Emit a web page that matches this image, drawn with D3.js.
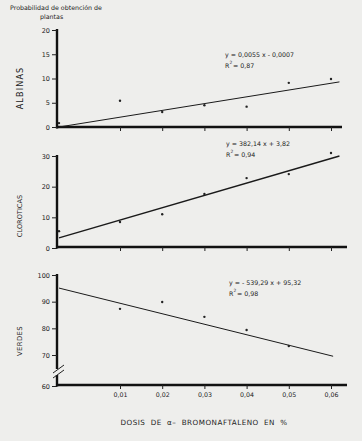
<!DOCTYPE html>
<html><head><meta charset="utf-8">
<script src="https://cdn.jsdelivr.net/npm/d3@7"></script>
<style>
html,body{margin:0;padding:0;background:#eeeeec;}
svg{display:block;}
text{font-family:"DejaVu Sans",sans-serif;fill:#222;}
</style></head>
<body>
<script>
// ---- data ----
const xTickValues = [0.01, 0.02, 0.03, 0.04, 0.05, 0.06];
const xTickLabels = ["0,01", "0,02", "0,03", "0,04", "0,05", "0,06"];

const albinasX = [0, 0.01, 0.02, 0.03, 0.04, 0.05, 0.06];
const albinasY = [0.8, 5.4, 3.1, 4.5, 4.2, 9.1, 9.9];
const albinasTrendX = [0, 0.062];
const albinasTrendY = [0, 9.3];
const albinasTicks = [0, 5, 10, 15, 20];

const cloroticasX = [0, 0.01, 0.02, 0.03, 0.04, 0.05, 0.06];
const cloroticasY = [5.5, 8.5, 11, 17.6, 22.8, 24.1, 31];
const cloroticasTrendX = [0, 0.062];
const cloroticasTrendY = [3.3, 30];
const cloroticasTicks = [0, 10, 20, 30];

const verdesX = [0.01, 0.02, 0.03, 0.04, 0.05];
const verdesY = [87.3, 89.9, 84.3, 79.4, 73.4];
const verdesTrendX = [0, 0.0605];
const verdesTrendY = [95.1, 69.6];
const verdesTicks = [60, 70, 80, 90, 100];

const eqAlbinas = ["y = 0,0055 x - 0,0007", "0,87"];
const eqCloroticas = ["y = 382,14 x + 3,82", "0,94"];
const eqVerdes = ["y = - 539,29 x + 95,32", "0,98"];

// ---- drawing ----
const W = 362, H = 441;
const svg = d3.select("body").append("svg").attr("width", W).attr("height", H);

const x = d3.scaleLinear().domain([0, 0.01, 0.06]).range([59, 120, 331]);
const axisX0 = 57;

svg.append("text").attr("x", 10).attr("y", 10).attr("font-size", 6.3).text("Probabilidad de obtención de");
svg.append("text").attr("x", 40).attr("y", 19).attr("font-size", 6.3).text("plantas");

function panel(cfg) {
  const g = svg.append("g");
  const y = cfg.y;
  g.append("line").attr("x1", axisX0).attr("x2", axisX0)
    .attr("y1", cfg.yTop).attr("y2", cfg.yBottom + 1.5)
    .attr("stroke", "#111").attr("stroke-width", 2.4);
  g.append("line").attr("x1", axisX0 - 1).attr("x2", cfg.xEnd)
    .attr("y1", cfg.yBottom).attr("y2", cfg.yBottom)
    .attr("stroke", "#111").attr("stroke-width", 2.6);
  const ya = d3.axisLeft(y).tickValues(cfg.ticks).tickSize(5).tickPadding(2).tickFormat(d3.format("d"));
  const yg = g.append("g").attr("transform", `translate(${axisX0},0)`).call(ya);
  yg.select(".domain").remove();
  yg.selectAll(".tick line").attr("stroke", "#222").attr("stroke-width", 1);
  yg.selectAll(".tick text").attr("font-size", 6.5).attr("fill", "#222").style("font-family", "DejaVu Sans, sans-serif");
  const xa = d3.axisBottom(x).tickValues(xTickValues).tickSize(4).tickPadding(4)
    .tickFormat((d, i) => cfg.showLabels ? xTickLabels[i] : "");
  const xg = g.append("g").attr("transform", `translate(0,${cfg.yBottom})`).call(xa);
  xg.select(".domain").remove();
  xg.selectAll(".tick line").attr("stroke", "#222").attr("stroke-width", 1);
  xg.selectAll(".tick text").attr("font-size", 6.3).attr("fill", "#222").style("font-family", "DejaVu Sans, sans-serif");
  const line = d3.line().x(d => x(d[0])).y(d => y(d[1]));
  g.append("path").datum(cfg.trendX.map((v, i) => [v, cfg.trendY[i]]))
    .attr("d", line).attr("fill", "none").attr("stroke", "#1a1a1a").attr("stroke-width", cfg.lw);
  g.selectAll("circle.pt").data(cfg.px.map((v, i) => [v, cfg.py[i]])).join("circle")
    .attr("class", "pt").attr("cx", d => x(d[0])).attr("cy", d => y(d[1])).attr("r", 1.2).attr("fill", "#222");
  g.append("text").attr("transform", `translate(${cfg.labelX},${cfg.labelY}) rotate(-90)`)
    .attr("text-anchor", "middle").attr("font-size", cfg.labelSize).attr("letter-spacing", cfg.labelSpacing).text(cfg.label);
  g.append("text").attr("x", cfg.eqX).attr("y", cfg.eqY).attr("font-size", 6.3).attr("fill", "#222").text(cfg.eq[0]);
  g.append("text").attr("x", cfg.eqX).attr("y", cfg.eqY + 11).attr("font-size", 6.3).attr("fill", "#222").text("R");
  g.append("text").attr("x", cfg.eqX + 4.6).attr("y", cfg.eqY + 6.6).attr("font-size", 4.4).attr("fill", "#222").text("2");
  g.append("text").attr("x", cfg.eqX + 8).attr("y", cfg.eqY + 11).attr("font-size", 6.3).attr("fill", "#222").text("= " + cfg.eq[1]);
  return g;
}

panel({
  y: d3.scaleLinear().domain([0, 20]).range([127, 30]),
  yTop: 29, yBottom: 127, xEnd: 342, ticks: albinasTicks, showLabels: false,
  px: albinasX, py: albinasY, trendX: albinasTrendX, trendY: albinasTrendY, lw: 1,
  label: "ALBINAS", labelX: 23, labelY: 88, labelSize: 8, labelSpacing: 1.2,
  eq: eqAlbinas, eqX: 225, eqY: 57
});

panel({
  y: d3.scaleLinear().domain([0, 30]).range([248, 156]),
  yTop: 155, yBottom: 247, xEnd: 347, ticks: cloroticasTicks, showLabels: false,
  px: cloroticasX, py: cloroticasY, trendX: cloroticasTrendX, trendY: cloroticasTrendY, lw: 1.5,
  label: "CLOROTICAS", labelX: 22, labelY: 216, labelSize: 6.6, labelSpacing: 0,
  eq: eqCloroticas, eqX: 226, eqY: 146
});

const yV = d3.scaleLinear().domain([60, 70, 100]).range([386, 355, 275]);
const gv = panel({
  y: yV,
  yTop: 274, yBottom: 385, xEnd: 347, ticks: verdesTicks, showLabels: true,
  px: verdesX, py: verdesY, trendX: verdesTrendX, trendY: verdesTrendY, lw: 1,
  label: "VERDES", labelX: 22, labelY: 341, labelSize: 6.8, labelSpacing: 0.4,
  eq: eqVerdes, eqX: 229, eqY: 285
});
gv.append("rect").attr("x", axisX0 - 3).attr("y", 369).attr("width", 6).attr("height", 6).attr("fill", "#eeeeec");
gv.append("line").attr("x1", 53).attr("y1", 373).attr("x2", 64).attr("y2", 365).attr("stroke", "#222").attr("stroke-width", 1);
gv.append("line").attr("x1", 53).attr("y1", 378).attr("x2", 64).attr("y2", 370).attr("stroke", "#222").attr("stroke-width", 1);

svg.append("text").attr("x", 204).attr("y", 425).attr("text-anchor", "middle")
  .attr("font-size", 7.2).attr("letter-spacing", 0.5).attr("word-spacing", 2.5)
  .text("DOSIS DE α– BROMONAFTALENO EN %");
</script>
</body></html>
